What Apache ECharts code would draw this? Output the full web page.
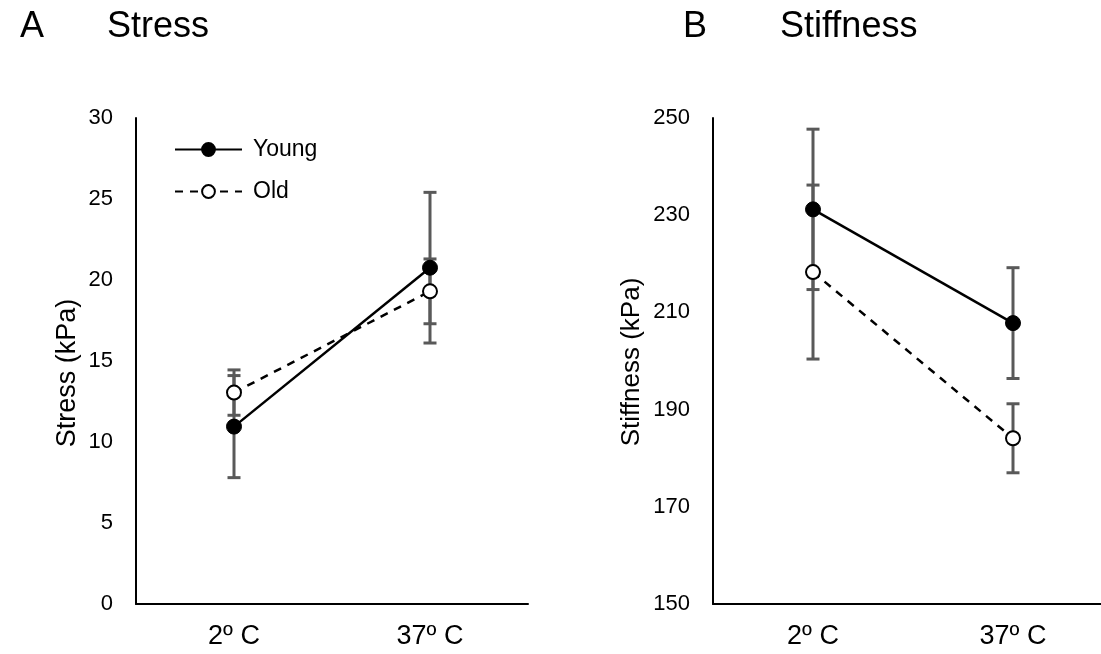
<!DOCTYPE html>
<html>
<head>
<meta charset="utf-8">
<script src="https://cdn.jsdelivr.net/npm/echarts@6/dist/echarts.min.js"></script>
<style>
  html, body { margin: 0; padding: 0; background: #fff; }
  #chart { width: 1101px; height: 654px; }
</style>
</head>
<body>
<div id="chart"></div>
<script>
// 두 패널: A = Stress, B = Stiffness (Young / Old, 평균 ± 오차)

const categories = ["2º C", "37º C"];

const stressYoung = [10.95, 20.76];
const stressYoungErr = [3.15, 4.65];
const stressOld = [13.05, 19.3];
const stressOldErr = [1.4, 2.0];

const stiffYoung = [231.2, 207.8];
const stiffYoungErr = [16.5, 11.4];
const stiffOld = [218.3, 184.1];
const stiffOldErr = [17.9, 7.1];

const stressTicks = { min: 0, max: 30, interval: 5 };
const stiffTicks = { min: 150, max: 250, interval: 20 };

const FONT = "'Liberation Sans', Arial, sans-serif";
const ERR_COLOR = "#595959";

const chart = echarts.init(document.getElementById("chart"), null, { renderer: "canvas" });

/** [카테고리 인덱스, 하한, 상한] 배열을 만든다. */
function errData(means, errs) {
  return means.map((m, i) => [i, m - errs[i], m + errs[i]]);
}

function errorSeries(idx, means, errs) {
  return {
    type: "custom",
    xAxisIndex: idx,
    yAxisIndex: idx,
    z: 1,
    silent: true,
    clip: false,
    data: errData(means, errs),
    renderItem(params, api) {
      const lo = api.coord([api.value(0), api.value(1)]);
      const hi = api.coord([api.value(0), api.value(2)]);
      const half = 6.5;
      const style = { stroke: ERR_COLOR, lineWidth: 3 };
      return {
        type: "group",
        children: [
          { type: "line", shape: { x1: lo[0], y1: lo[1], x2: hi[0], y2: hi[1] }, style },
          { type: "line", shape: { x1: lo[0] - half, y1: lo[1], x2: lo[0] + half, y2: lo[1] }, style },
          { type: "line", shape: { x1: hi[0] - half, y1: hi[1], x2: hi[0] + half, y2: hi[1] }, style }
        ]
      };
    }
  };
}

function youngSeries(idx, data) {
  return {
    name: "Young",
    type: "line",
    xAxisIndex: idx,
    yAxisIndex: idx,
    z: 3,
    data,
    symbol: "circle",
    symbolSize: 15,
    lineStyle: { color: "#000", width: 2.5 },
    itemStyle: { color: "#000", borderColor: "#000", borderWidth: 1 },
    animation: false
  };
}

function oldSeries(idx, data) {
  return {
    name: "Old",
    type: "line",
    xAxisIndex: idx,
    yAxisIndex: idx,
    z: 3,
    data,
    symbol: "circle",
    symbolSize: 14,
    lineStyle: { color: "#000", width: 2.5, type: [8, 7] },
    itemStyle: { color: "#fff", borderColor: "#000", borderWidth: 2 },
    animation: false
  };
}

function xAxis(idx) {
  return {
    type: "category",
    gridIndex: idx,
    data: categories,
    boundaryGap: true,
    axisLine: { lineStyle: { color: "#000", width: 2 } },
    axisTick: { show: false },
    axisLabel: { color: "#000", fontSize: 27, fontFamily: FONT, margin: 19 }
  };
}

function yAxis(idx, ticks) {
  return {
    type: "value",
    gridIndex: idx,
    min: ticks.min,
    max: ticks.max,
    interval: ticks.interval,
    axisLine: { show: true, lineStyle: { color: "#000", width: 2 } },
    axisTick: { show: false },
    splitLine: { show: false },
    axisLabel: { color: "#000", fontSize: 22, fontFamily: FONT, margin: 23 }
  };
}

function text(x, y, str, size, rotation) {
  return {
    type: "text",
    x, y,
    rotation: rotation || 0,
    style: {
      text: str,
      fill: "#000",
      font: `${size}px ${FONT}`,
      align: rotation ? "center" : "left",
      verticalAlign: "middle"
    }
  };
}

chart.setOption({
  backgroundColor: "#fff",
  animation: false,
  grid: [
    { left: 136, top: 118, width: 392, height: 486, outerBoundsMode: "none" },
    // 오른쪽 패널의 x축은 캔버스 밖까지 이어진다 (원본에서 잘림)
    { left: 713, top: 118, width: 400, height: 486, outerBoundsMode: "none" }
  ],
  xAxis: [xAxis(0), xAxis(1)],
  yAxis: [yAxis(0, stressTicks), yAxis(1, stiffTicks)],
  legend: {
    data: ["Young", "Old"],
    orient: "vertical",
    left: 169,
    top: 133,
    itemWidth: 67,
    itemHeight: 16,
    itemGap: 19,
    textStyle: { color: "#000", fontSize: 23, fontFamily: FONT, padding: [0, 0, 0, 6] },
    selectedMode: false
  },
  graphic: [
    text(20, 27, "A", 36),
    text(107, 27, "Stress", 36),
    text(683, 27, "B", 36),
    text(780, 27, "Stiffness", 36),
    text(68, 373, "Stress (kPa)", 27, Math.PI / 2),
    text(632, 362, "Stiffness (kPa)", 26, Math.PI / 2)
  ],
  series: [
    errorSeries(0, stressYoung, stressYoungErr),
    errorSeries(0, stressOld, stressOldErr),
    youngSeries(0, stressYoung),
    oldSeries(0, stressOld),
    errorSeries(1, stiffYoung, stiffYoungErr),
    errorSeries(1, stiffOld, stiffOldErr),
    youngSeries(1, stiffYoung),
    oldSeries(1, stiffOld)
  ]
});
</script>
</body>
</html>
